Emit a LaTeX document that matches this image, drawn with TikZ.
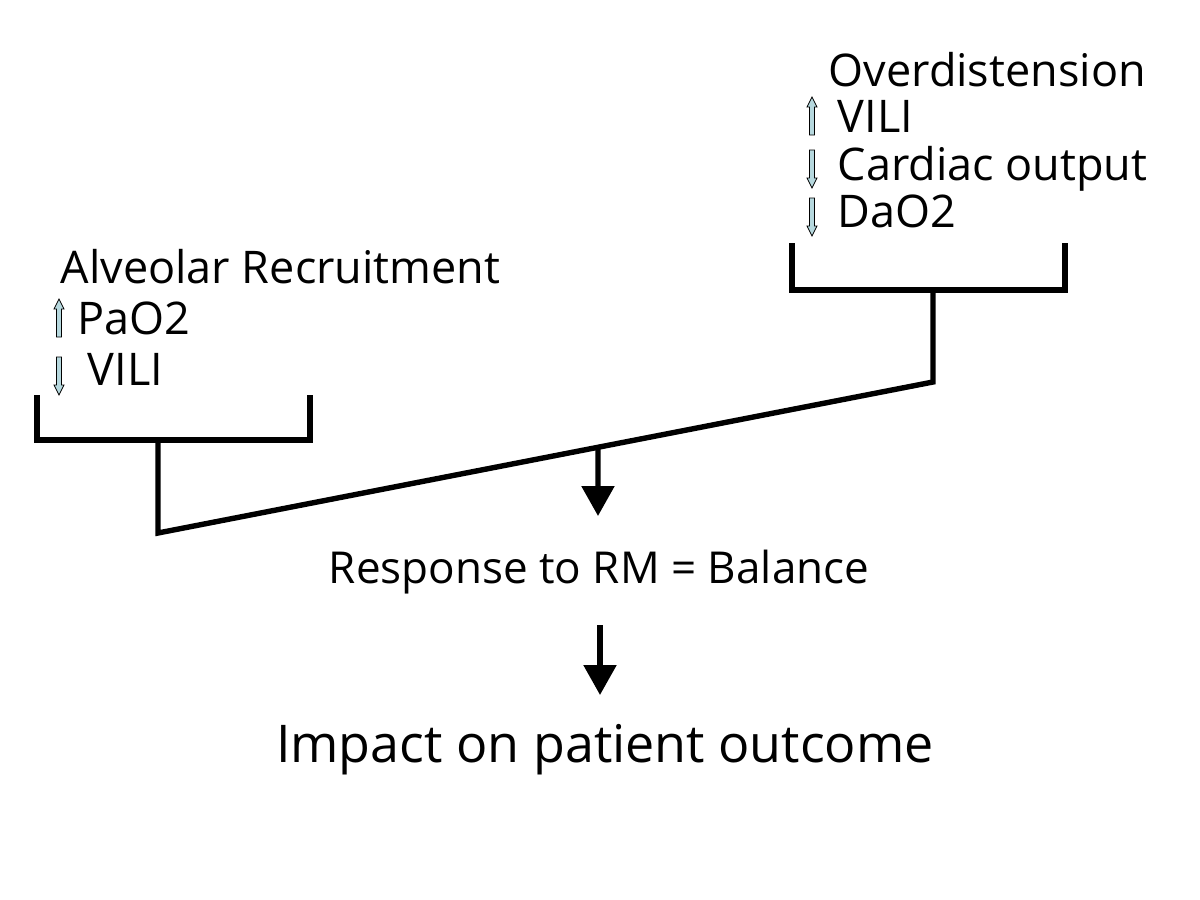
\documentclass[tikz,border=0pt]{standalone}
\usepackage{fontspec}
\setmainfont{Open Sans}
\usetikzlibrary{positioning,calc,arrows.meta}
\definecolor{palecyan}{RGB}{182,216,222}

\tikzset{
  label/.style={anchor=base west, inner sep=0pt, font=\fontsize{22.5}{26}\selectfont},
  midtext/.style={anchor=base, inner sep=0pt, font=\fontsize{22}{26}\selectfont},
  bigtext/.style={anchor=base, inner sep=0pt, font=\fontsize{26}{30}\selectfont},
  uparr/.pic={\filldraw[fill=palecyan, line width=0.4pt] (-2.5,0) -- (-2.5,-28) -- (-5,-28) -- (0,-38) -- (5,-28) -- (2.5,-28) -- (2.5,0) -- cycle;},
  downarr/.pic={\filldraw[fill=palecyan, line width=0.4pt] (-2.5,0) -- (-2.5,28) -- (-5,28) -- (0,38) -- (5,28) -- (2.5,28) -- (2.5,0) -- cycle;},
  bigarr/.style={-{Triangle[width=16pt,length=15pt]}}
}

\begin{document}
\begin{tikzpicture}[x=0.5pt,y=-0.5pt,line width=2.7pt]
    \useasboundingbox (0,0) rectangle (1200,900);
    % left group
    \node [label] (alv) at (58,283) {Alveolar Recruitment};
    \node [label] (pao) at (75,334) {PaO2};
    \node [label] (vili1) at (85,385) {VILI};
    \pic at (59,337) {uparr};
    \pic at (59,357) {downarr};
    % right group
    \node [label] (over) at (826,86) {Overdistension};
    \node [label] (vili2) at (835,132) {VILI};
    \node [label] (card) at (835,180) {Cardiac output};
    \node [label] (dao) at (835,227) {DaO2};
    \pic at (812,135) {uparr};
    \pic at (812,150) {downarr};
    \pic at (812,198) {downarr};
    % brackets
    \coordinate (la) at (37,395);
    \coordinate (lb) at (310,395);
    \coordinate (lm) at (158,440);
    \coordinate (lbot) at (158,533);
    \coordinate (ra) at (792,243);
    \coordinate (rb) at (1065,243);
    \coordinate (rm) at (933,290);
    \coordinate (rbot) at (933,382);
    \draw [line join=miter] (la) |- (lb |- lm) -- (lb);
    \draw (lm) -- (lbot) -- (rbot) -- (rm);
    \draw [line join=miter] (ra) |- (rb |- rm) -- (rb);
    \coordinate (split) at ($(lbot)!0.5677!(rbot)$);
    % outcome
    \node [midtext] (resp) at (599,583) {Response to RM = Balance};
    \node [bigtext] (impact) at (605,762) {Impact on patient outcome};
    \draw [bigarr] (split) -- (598,516);
    \draw [bigarr] (600,625) -- (600,695);
\end{tikzpicture}
\end{document}
